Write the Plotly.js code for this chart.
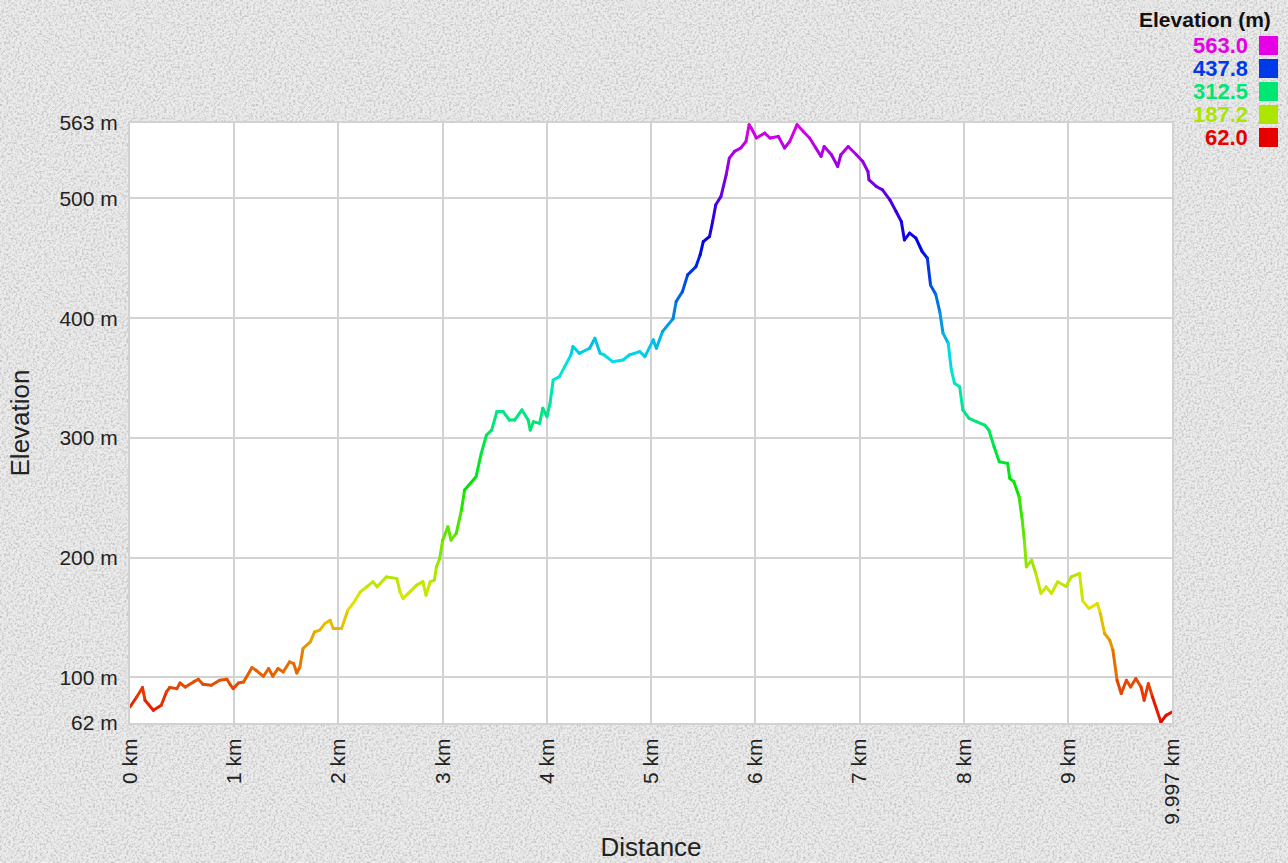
<!DOCTYPE html>
<html>
<head>
<meta charset="utf-8">
<script src="https://cdn.plot.ly/plotly-3.0.1.min.js"></script>
<style>
  html, body { margin: 0; padding: 0; background-color: #e2e2e2; }
  #chart { width: 1288px; height: 863px; }
  .scatterlayer .js-line { stroke-linecap: round; stroke-linejoin: round; }
</style>
</head>
<body>
<div id="chart"></div>
<script>
// Distance along the track (km)
const distanceKm = [
  0, 0.064, 0.12, 0.144, 0.224, 0.30, 0.35, 0.38, 0.45, 0.48,
  0.53, 0.61, 0.655, 0.70, 0.78, 0.86, 0.93, 0.96, 0.99, 1.04,
  1.09, 1.17, 1.21, 1.28, 1.33, 1.37, 1.42, 1.47, 1.53, 1.57,
  1.60, 1.63, 1.66, 1.73, 1.77, 1.82, 1.87, 1.92, 1.95, 2.03,
  2.09, 2.14, 2.21, 2.27, 2.33, 2.37, 2.46, 2.56, 2.59, 2.62,
  2.67, 2.75, 2.81, 2.84, 2.88, 2.92, 2.94, 2.97, 3.00, 3.05,
  3.08, 3.13, 3.18, 3.21, 3.32, 3.37, 3.42, 3.47, 3.52, 3.58,
  3.64, 3.69, 3.76, 3.82, 3.84, 3.87, 3.93, 3.96, 4.00, 4.03,
  4.06, 4.12, 4.17, 4.23, 4.25, 4.31, 4.41, 4.46, 4.51, 4.55,
  4.63, 4.73, 4.79, 4.89, 4.94, 5.02, 5.05, 5.11, 5.21, 5.24,
  5.30, 5.35, 5.43, 5.47, 5.50, 5.56, 5.59, 5.62, 5.67, 5.72,
  5.75, 5.80, 5.86, 5.91, 5.94, 5.96, 6.01, 6.09, 6.14, 6.22,
  6.28, 6.33, 6.40, 6.46, 6.52, 6.58, 6.63, 6.66, 6.73, 6.79,
  6.82, 6.89, 6.97, 7.03, 7.08, 7.09, 7.16, 7.22, 7.29, 7.35,
  7.40, 7.43, 7.48, 7.54, 7.60, 7.65, 7.68, 7.73, 7.77, 7.80,
  7.85, 7.88, 7.91, 7.96, 7.99, 8.05, 8.12, 8.20, 8.24, 8.29,
  8.34, 8.42, 8.44, 8.48, 8.53, 8.56, 8.58, 8.60, 8.65, 8.69,
  8.74, 8.79, 8.84, 8.90, 8.98, 9.03, 9.11, 9.14, 9.20, 9.28,
  9.31, 9.35, 9.40, 9.43, 9.47, 9.51, 9.56, 9.60, 9.65, 9.70,
  9.73, 9.77, 9.81, 9.89, 9.94, 9.997
];

// Elevation (m)
const elevationM = [
  75.4, 83.7, 91.6, 81.0, 72.6, 76.8, 88.0, 91.6, 90.7, 95.4,
  92.0, 96.3, 98.5, 94.3, 93.5, 97.7, 98.5, 94.3, 90.7, 95.4,
  96.3, 108.3, 106.0, 101.0, 107.5, 101.0, 107.5, 104.6, 113.0, 111.6,
  103.8, 108.8, 124.2, 129.7, 138.0, 139.5, 145.0, 147.8, 140.9, 140.9,
  156.2, 161.8, 171.5, 175.7, 179.9, 175.7, 184.0, 182.7, 171.5, 166.0,
  170.2, 177.1, 180.0, 168.7, 179.9, 181.3, 192.4, 199.0, 214.7, 225.8,
  214.7, 220.3, 239.8, 256.5, 267.6, 287.2, 302.5, 306.6, 322.0, 322.0,
  315.0, 315.0, 323.4, 315.0, 306.6, 313.6, 312.2, 324.8, 317.8, 329.0,
  348.4, 351.2, 359.6, 369.3, 376.3, 370.7, 374.9, 383.3, 370.7, 369.3,
  363.7, 365.1, 369.3, 372.1, 367.9, 381.9, 374.9, 389.0, 399.5, 413.9,
  422.2, 436.2, 443.1, 452.9, 464.0, 468.2, 480.8, 494.7, 501.7, 519.8,
  533.7, 539.3, 542.1, 547.7, 561.6, 558.8, 550.5, 554.6, 550.5, 551.8,
  542.1, 547.7, 561.6, 555.9, 550.5, 542.1, 535.1, 543.4, 536.5, 526.7,
  536.5, 543.4, 536.5, 530.9, 522.5, 515.6, 510.0, 507.2, 498.9, 489.1,
  480.8, 465.4, 471.0, 466.9, 455.7, 450.1, 427.8, 420.0, 405.0, 387.5,
  379.1, 356.8, 345.7, 342.8, 323.4, 316.4, 313.6, 310.8, 306.6, 292.7,
  280.2, 278.8, 266.3, 263.5, 250.9, 231.4, 214.7, 192.4, 198.0, 186.9,
  170.2, 175.7, 170.2, 179.9, 176.0, 184.0, 186.9, 164.0, 157.6, 161.8,
  153.4, 136.7, 131.1, 122.8, 97.7, 86.6, 97.7, 92.1, 99.1, 92.1,
  81.0, 94.9, 83.7, 62.8, 68.4, 71.2
];

// Axis ticks
const xTickVals = [0, 1, 2, 3, 4, 5, 6, 7, 8, 9, 9.997];
const xTickText = ["0 km", "1 km", "2 km", "3 km", "4 km", "5 km", "6 km", "7 km", "8 km", "9 km", "9.997 km"];
const yTickVals = [62, 100, 200, 300, 400, 500, 563];
const yTickText = ["62 m", "100 m", "200 m", "300 m", "400 m", "500 m", "563 m"];

// Colour legend values (m)
const legendVals = [563.0, 437.8, 312.5, 187.2, 62.0];

// Granite-like page texture (deterministic SVG noise filter)
(function () {
  const svg = "<svg xmlns='http://www.w3.org/2000/svg' width='256' height='256'>" +
    "<filter id='n' color-interpolation-filters='sRGB'>" +
    "<feTurbulence type='fractalNoise' baseFrequency='0.45' numOctaves='3' stitchTiles='stitch'/>" +
    "<feColorMatrix type='matrix' values='1.3 0 0 0 0.25  1.3 0 0 0 0.25  1.3 0 0 0 0.25  0 0 0 0 1'/>" +
    "</filter>" +
    "<rect width='100%' height='100%' fill='#e3e3e3'/>" +
    "<rect width='100%' height='100%' filter='url(#n)' opacity='0.32'/>" +
    "</svg>";
  document.body.style.backgroundImage = "url(\"data:image/svg+xml;charset=utf-8," + encodeURIComponent(svg) + "\")";
})();

const ELEV_MIN = 62, ELEV_MAX = 563;

function elevColor(e) {
  let t = (e - ELEV_MIN) / (ELEV_MAX - ELEV_MIN);
  t = Math.max(0, Math.min(1, t));
  const h = t * 300, s = 1, v = 0.9;
  const c = v * s;
  const hp = h / 60;
  const x = c * (1 - Math.abs((hp % 2) - 1));
  let r = 0, g = 0, b = 0;
  if (hp < 1) { r = c; g = x; }
  else if (hp < 2) { r = x; g = c; }
  else if (hp < 3) { g = c; b = x; }
  else if (hp < 4) { g = x; b = c; }
  else if (hp < 5) { r = x; b = c; }
  else { r = c; b = x; }
  const m = v - c;
  return "rgb(" + Math.round((r + m) * 255) + "," + Math.round((g + m) * 255) + "," + Math.round((b + m) * 255) + ")";
}

const traces = [];
for (let i = 0; i < distanceKm.length - 1; i++) {
  traces.push({
    type: "scatter",
    mode: "lines",
    x: [distanceKm[i], distanceKm[i + 1]],
    y: [elevationM[i], elevationM[i + 1]],
    line: { color: elevColor((elevationM[i] + elevationM[i + 1]) / 2), width: 3 },
    hoverinfo: "skip",
    showlegend: false
  });
}

const W = 1288, H = 863;
const M = { l: 130, r: 116, t: 123, b: 140 };
const PW = W - M.l - M.r, PH = H - M.t - M.b;
const px2x = p => (p - M.l) / PW;
const py2y = p => (H - M.b - p) / PH;

const FONT = "Liberation Sans, Arial, Helvetica, sans-serif";

const annotations = [{
  xref: "paper", yref: "paper",
  x: px2x(1273), y: py2y(19),
  xanchor: "right", yanchor: "middle",
  text: "<b>Elevation (m)</b>",
  showarrow: false,
  font: { family: FONT, size: 21, color: "#111111" }
}];
const shapes = [];
const rowY = [45.5, 68.5, 91.5, 114.5, 137.5];
legendVals.forEach((v, i) => {
  const col = elevColor(v);
  annotations.push({
    xref: "paper", yref: "paper",
    x: px2x(1250), y: py2y(rowY[i]),
    xanchor: "right", yanchor: "middle",
    text: "<b>" + v.toFixed(1) + "</b>",
    showarrow: false,
    font: { family: FONT, size: 22, color: col }
  });
  shapes.push({
    type: "rect", xref: "paper", yref: "paper",
    x0: px2x(1259), x1: px2x(1278),
    y0: py2y(rowY[i] + 9.5), y1: py2y(rowY[i] - 9.5),
    fillcolor: col, line: { width: 0 }
  });
});

const layout = {
  width: W, height: H,
  margin: M,
  paper_bgcolor: "rgba(0,0,0,0)",
  plot_bgcolor: "#ffffff",
  font: { family: FONT, color: "#222222" },
  showlegend: false,
  xaxis: {
    range: [0, 9.997],
    tickmode: "array", tickvals: xTickVals, ticktext: xTickText,
    tickangle: -90,
    tickfont: { family: FONT, size: 21, color: "#222222" },
    ticks: "outside", ticklen: 5, tickcolor: "rgba(0,0,0,0)",
    showgrid: true, gridcolor: "#d2d2d2", gridwidth: 2,
    showline: true, linecolor: "#d2d2d2", linewidth: 2, mirror: true,
    zeroline: false,
    title: { text: "Distance", font: { family: FONT, size: 26, color: "#222222" }, standoff: 14 }
  },
  yaxis: {
    range: [62, 563],
    tickmode: "array", tickvals: yTickVals, ticktext: yTickText,
    tickfont: { family: FONT, size: 21, color: "#222222" },
    ticks: "outside", ticklen: 6, tickcolor: "rgba(0,0,0,0)",
    showgrid: true, gridcolor: "#d2d2d2", gridwidth: 2,
    showline: true, linecolor: "#d2d2d2", linewidth: 2, mirror: true,
    zeroline: false,
    title: { text: "Elevation", font: { family: FONT, size: 26, color: "#222222" }, standoff: 22 }
  },
  annotations: annotations,
  shapes: shapes
};

Plotly.newPlot("chart", traces, layout, { displayModeBar: false, staticPlot: true });
</script>
</body>
</html>
